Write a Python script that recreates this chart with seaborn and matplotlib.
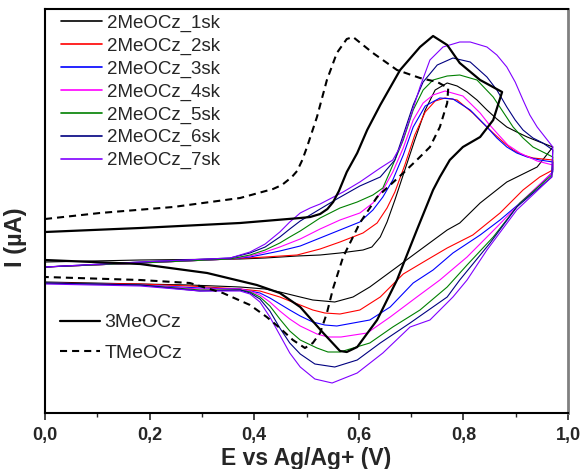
import numpy as np
import pandas as pd
import seaborn as sns
from matplotlib import pyplot as plt
from matplotlib.lines import Line2D
from matplotlib.ticker import MultipleLocator, FuncFormatter

sns.set_style('ticks')
plt.rcParams['font.family'] = ['Liberation Sans', 'DejaVu Sans']

##----------------------------------------------------------------------------##
## data: potential E (V) and current I (uA), forward branch then reverse branch
##----------------------------------------------------------------------------##
E_1sk = [0, 0.182, 0.373, 0.421, 0.482, 0.526, 0.564, 0.608, 0.625, 0.641, 0.654, 0.669, 0.688, 0.707, 0.727, 0.746, 0.769, 0.788, 0.807, 0.826,
         0.845, 0.864, 0.883, 0.902, 0.922, 0.946, 0.971,
         0.941, 0.883, 0.832, 0.793, 0.769, 0.717, 0.673, 0.621, 0.589, 0.554, 0.512, 0.488, 0.449, 0.421, 0.373, 0.277, 0.182, 0]
I_1sk = [0.8, 1.0, 1.1, 1.2, 1.4, 1.5, 1.7, 2.0, 2.3, 3.3, 4.8, 7.0, 10.0, 13.0, 16.0, 18.0, 18.7, 18.4, 17.8, 17.0,
         16.0, 15.1, 14.3, 13.8, 13.3, 12.8, 12.3,
         10.3, 8.8, 6.7, 4.7, 4.0, 2.0, 0.3, -1.7, -2.7, -3.2, -3.0, -2.7, -2.2, -1.9, -1.7, -1.5, -1.4, -1.2]

E_2sk = [0, 0.182, 0.354, 0.421, 0.482, 0.526, 0.564, 0.608, 0.635, 0.654, 0.669, 0.688, 0.707, 0.727, 0.746, 0.765, 0.788, 0.818, 0.837, 0.857,
         0.876, 0.895, 0.914, 0.933, 0.971,
         0.971, 0.946, 0.914, 0.870, 0.818, 0.769, 0.730, 0.685, 0.641, 0.602, 0.564, 0.535, 0.512, 0.488, 0.468, 0.449, 0.430, 0.411, 0.392, 0.373,
         0.277, 0.182, 0]
I_2sk = [0.3, 0.7, 1.1, 1.3, 1.5, 2.1, 2.8, 3.7, 4.7, 6.2, 7.8, 10.5, 13.5, 15.8, 16.9, 17.2, 17.0, 15.7, 14.7, 13.7,
         12.8, 12.0, 11.5, 11.2, 11.0,
         10.0, 9.3, 8.0, 5.7, 3.5, 2.2, 1.0, -0.4, -2.7, -4.0, -4.4, -4.3, -4.0, -3.5, -3.1, -2.7, -2.4, -2.1, -2.0, -1.9,
         -1.6, -1.4, -1.3]

E_3sk = [0, 0.182, 0.354, 0.392, 0.421, 0.449, 0.488, 0.526, 0.564, 0.602, 0.627, 0.646, 0.665, 0.685, 0.704, 0.727, 0.755, 0.780, 0.813, 0.845,
         0.864, 0.883, 0.902, 0.922, 0.946, 0.971,
         0.971, 0.922, 0.870, 0.832, 0.780, 0.742, 0.704, 0.660, 0.621, 0.558, 0.535, 0.512, 0.488, 0.468, 0.449, 0.430, 0.411, 0.392, 0.373, 0.296,
         0.182, 0]
I_3sk = [0.3, 0.7, 1.1, 1.3, 1.6, 1.9, 2.4, 3.2, 4.0, 4.8, 6.0, 7.3, 9.0, 11.5, 14.3, 16.4, 17.2, 17.1, 16.0, 14.3,
         13.2, 12.3, 11.7, 11.3, 11.0, 10.8,
         9.8, 7.3, 5.0, 3.5, 1.7, 0.0, -1.3, -3.7, -5.0, -5.6, -5.5, -5.2, -4.6, -4.0, -3.4, -2.8, -2.3, -2.1, -1.9, -1.8,
         -1.5, -1.3]

E_4sk = [0, 0.182, 0.354, 0.392, 0.421, 0.449, 0.488, 0.526, 0.564, 0.602, 0.627, 0.646, 0.665, 0.685, 0.704, 0.723, 0.742, 0.765, 0.799, 0.832,
         0.847, 0.864, 0.885, 0.908, 0.941, 0.971,
         0.969, 0.914, 0.864, 0.807, 0.755, 0.711, 0.660, 0.616, 0.566, 0.541, 0.520, 0.488, 0.468, 0.449, 0.430, 0.411, 0.392, 0.373, 0.296, 0.182, 0]
I_4sk = [0.3, 0.7, 1.1, 1.4, 1.8, 2.3, 3.1, 4.1, 5.0, 5.7, 6.7, 8.0, 9.8, 12.2, 15.0, 16.7, 17.5, 17.9, 17.4, 15.7,
         14.7, 13.7, 12.5, 11.7, 10.9, 10.5,
         9.7, 7.0, 4.3, 1.3, -1.0, -2.7, -4.7, -6.3, -6.7, -6.7, -6.4, -5.6, -4.9, -4.1, -3.2, -2.5, -2.1, -1.9, -1.9, -1.5, -1.3]

E_5sk = [0, 0.182, 0.354, 0.392, 0.421, 0.449, 0.468, 0.488, 0.526, 0.564, 0.597, 0.627, 0.646, 0.665, 0.685, 0.704, 0.723, 0.742, 0.769, 0.793,
         0.826, 0.857, 0.876, 0.895, 0.914, 0.933, 0.952, 0.971,
         0.969, 0.908, 0.857, 0.807, 0.769, 0.717, 0.665, 0.621, 0.564, 0.541, 0.520, 0.488, 0.468, 0.449, 0.430, 0.411, 0.392, 0.373, 0.296, 0.182, 0]
I_5sk = [0.3, 0.7, 1.1, 1.5, 2.0, 2.7, 3.3, 3.9, 5.2, 6.2, 6.8, 7.5, 8.2, 10.5, 13.0, 16.0, 18.0, 19.0, 19.4, 19.5,
         19.0, 17.3, 15.8, 14.3, 13.2, 12.3, 11.8, 11.3,
         9.5, 6.7, 3.3, 0.5, -1.7, -4.0, -5.7, -7.3, -8.2, -8.2, -7.8, -7.0, -6.1, -4.9, -3.6, -2.7, -2.2, -2.0, -2.0, -1.5, -1.3]

E_6sk = [0, 0.182, 0.354, 0.392, 0.421, 0.449, 0.468, 0.488, 0.507, 0.526, 0.558, 0.602, 0.641, 0.669, 0.685, 0.704, 0.723, 0.750, 0.780, 0.813,
         0.845, 0.864, 0.883, 0.899, 0.914, 0.933, 0.952, 0.971,
         0.969, 0.902, 0.851, 0.793, 0.769, 0.698, 0.641, 0.597, 0.554, 0.516, 0.488, 0.468, 0.449, 0.430, 0.411, 0.392, 0.373, 0.296, 0.182, 0]
I_6sk = [0.3, 0.8, 1.2, 1.7, 2.3, 3.3, 4.1, 4.9, 5.5, 6.1, 7.1, 8.4, 9.3, 11.0, 13.5, 16.5, 18.8, 20.5, 21.2, 20.8,
         19.3, 18.0, 16.3, 15.0, 14.0, 13.2, 12.7, 12.0,
         9.3, 6.3, 2.7, -1.0, -2.7, -5.3, -7.3, -9.0, -9.7, -9.4, -8.4, -7.3, -5.8, -4.1, -2.9, -2.3, -2.0, -2.1, -1.5, -1.3]

E_7sk = [0, 0.182, 0.354, 0.392, 0.421, 0.449, 0.468, 0.488, 0.507, 0.526, 0.570, 0.602, 0.641, 0.665, 0.679, 0.698, 0.717, 0.736, 0.761, 0.793,
         0.813, 0.845, 0.864, 0.883, 0.899, 0.914, 0.927, 0.941, 0.956, 0.971,
         0.969, 0.902, 0.845, 0.807, 0.780, 0.736, 0.698, 0.646, 0.597, 0.549, 0.516, 0.488, 0.468, 0.449, 0.430, 0.411, 0.392, 0.373, 0.296, 0.182, 0]
I_7sk = [0.3, 0.8, 1.2, 1.8, 2.6, 3.8, 4.8, 5.7, 6.2, 6.6, 7.8, 8.8, 10.2, 11.0, 12.3, 15.2, 18.3, 21.0, 22.3, 22.8,
         22.8, 22.3, 21.5, 20.3, 18.8, 17.0, 15.5, 14.3, 13.3, 12.3,
         9.3, 6.0, 2.0, -1.0, -2.7, -5.0, -5.7, -8.3, -10.3, -11.3, -10.9, -9.7, -8.3, -6.5, -4.7, -3.2, -2.4, -2.1, -2.1, -1.6, -1.4]

E_3MeOCz = [0, 0.182, 0.373, 0.488, 0.507, 0.526, 0.540, 0.551, 0.562, 0.577, 0.597, 0.616, 0.641, 0.679, 0.717, 0.742, 0.769, 0.793, 0.832, 0.874,
            0.857, 0.832, 0.799, 0.774, 0.755, 0.742, 0.711, 0.673, 0.635, 0.597, 0.577, 0.564, 0.532, 0.488, 0.449, 0.405, 0.310, 0.182, 0]
I_3MeOCz = [3.8, 4.2, 4.7, 5.2, 5.3, 5.6, 6.1, 6.8, 7.9, 9.8, 11.7, 14.0, 16.5, 20.0, 22.3, 23.4, 22.5, 20.7, 19.0, 17.8,
            15.0, 13.3, 12.3, 11.0, 9.3, 8.0, 4.0, -1.0, -5.0, -7.7, -8.2, -8.1, -6.3, -3.7, -2.3, -1.5, -0.3, 0.6, 1.0]

E_TMeOCz = [0, 0.105, 0.245, 0.373, 0.436, 0.453, 0.472, 0.482, 0.492, 0.501, 0.520, 0.539, 0.558, 0.577, 0.589, 0.627, 0.673, 0.717, 0.750, 0.771,
            0.769, 0.755, 0.736, 0.711, 0.685, 0.635, 0.602, 0.570, 0.551, 0.539, 0.526, 0.512, 0.497, 0.474, 0.449, 0.424, 0.392, 0.340, 0.277, 0.182, 0]
I_TMeOCz = [5.1, 5.7, 6.3, 7.2, 8.1, 8.5, 9.3, 9.9, 11.0, 12.3, 15.3, 19.0, 21.7, 23.1, 23.3, 21.7, 20.0, 19.2, 18.8, 18.2,
            16.7, 14.3, 12.3, 11.0, 9.7, 7.3, 4.7, 1.3, -1.8, -4.3, -6.3, -7.3, -7.8, -7.0, -5.8, -4.7, -3.5, -2.3, -1.3, -1.0, -0.7]

scanLabels = ['2MeOCz_1sk', '2MeOCz_2sk', '2MeOCz_3sk', '2MeOCz_4sk', '2MeOCz_5sk', '2MeOCz_6sk', '2MeOCz_7sk']
scanColors = ['#000000', '#ff0000', '#0000ff', '#ff00ff', '#008000', '#000080', '#8000ff']
scanE = [E_1sk, E_2sk, E_3sk, E_4sk, E_5sk, E_6sk, E_7sk]
scanI = [I_1sk, I_2sk, I_3sk, I_4sk, I_5sk, I_6sk, I_7sk]

##----------------------------------------------------------------------------##
## plot
##----------------------------------------------------------------------------##
fig = plt.figure(figsize=(5.85, 4.69), dpi=100)
ax = fig.add_axes([45/585, 56/469, 523/585, 404/469])

for e, i, c in zip(scanE, scanI, scanColors):
    sns.lineplot(x=e, y=i, sort=False, estimator=None, color=c, lw=0.8, ax=ax)

dash = (0, (3.4, 2.4))
sns.lineplot(x=E_3MeOCz, y=I_3MeOCz, sort=False, estimator=None, color='black', lw=1.6, ax=ax)
sns.lineplot(x=E_TMeOCz, y=I_TMeOCz, sort=False, estimator=None, color='black', lw=1.5,
             linestyle=dash, ax=ax)

ax.set_xlim(0, 1.0)
ax.set_ylim(-14.3, 26.1)
ax.set_yticks([])
ax.xaxis.set_major_locator(MultipleLocator(0.2))
ax.xaxis.set_minor_locator(MultipleLocator(0.1))
ax.xaxis.set_major_formatter(FuncFormatter(lambda v, p: f'{v:.1f}'.replace('.', ',')))
ax.tick_params(axis='x', which='major', length=5, width=1.2, labelsize=13, pad=5)
ax.tick_params(axis='x', which='minor', length=3, width=1.0)
for lab in ax.get_xticklabels():
    lab.set_fontweight('bold')

for s in ['left', 'bottom', 'top']:
    ax.spines[s].set_linewidth(1.5)
    ax.spines[s].set_color('black')
ax.spines['right'].set_linewidth(2)
ax.spines['right'].set_color('#808080')

ax.set_xlabel('E vs Ag/Ag+ (V)', fontsize=16.5, fontweight='bold', labelpad=2)
ax.set_ylabel('I (µA)', fontsize=17, fontweight='bold')
ax.yaxis.set_label_coords(-0.034, 0.436)

handles1 = [Line2D([], [], color=c, lw=1.2) for c in scanColors]
leg1 = ax.legend(handles1, scanLabels, loc='upper left', bbox_to_anchor=(0.016, 1.005), frameon=False,
                 fontsize=13.5, labelspacing=0.3, handlelength=2.19, handletextpad=0.27, borderaxespad=0)
ax.add_artist(leg1)

handles2 = [Line2D([], [], color='black', lw=1.6),
            Line2D([], [], color='black', lw=1.5, linestyle=dash)]
ax.legend(handles2, ['3MeOCz', 'TMeOCz'], loc='upper left', bbox_to_anchor=(0.013, 0.265), frameon=False,
          fontsize=14, labelspacing=0.66, handlelength=2.06, handletextpad=0.26, borderaxespad=0)

fig.savefig('out.png', dpi=100)
